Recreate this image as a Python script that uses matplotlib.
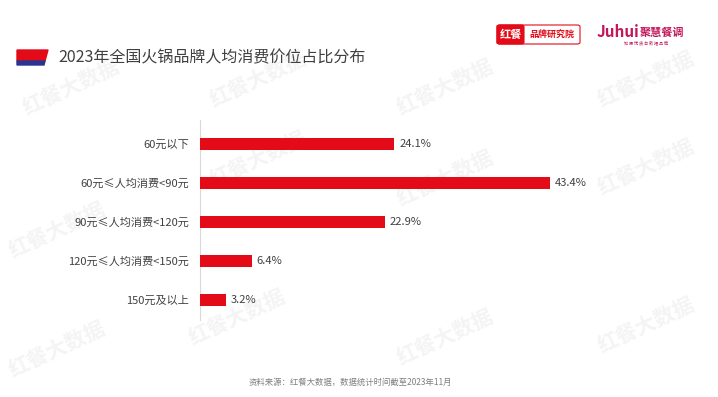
import matplotlib.pyplot as plt
from matplotlib.patches import Polygon, FancyBboxPatch

plt.rcParams['font.family'] = ['Noto Sans CJK SC', 'DejaVu Sans']

categories = ['60元以下', '60元≤人均消费<90元', '90元≤人均消费<120元',
              '120元≤人均消费<150元', '150元及以上']
shares = [24.1, 43.4, 22.9, 6.4, 3.2]
value_labels = ['24.1%', '43.4%', '22.9%', '6.4%', '3.2%']

title = '2023年全国火锅品牌人均消费价位占比分布'
source = '资料来源：红餐大数据，数据统计时间截至2023年11月'

red = '#e30b17'

fig = plt.figure(figsize=(7.18, 3.97), dpi=100)
fig.patch.set_facecolor('white')

# faint watermarks behind everything
bg = fig.add_axes([0, 0, 1, 1], zorder=-1)
bg.set_axis_off()
bg.set_xlim(0, 1)
bg.set_ylim(0, 1)
for wx, wy in [(0.10, 0.78), (0.36, 0.80), (0.62, 0.78), (0.90, 0.80),
               (0.08, 0.42), (0.36, 0.60), (0.62, 0.55), (0.90, 0.58),
               (0.08, 0.12), (0.33, 0.20), (0.62, 0.15), (0.90, 0.18)]:
    bg.text(wx, wy, '红餐大数据', fontsize=15, color='#f4f4f4', rotation=25,
            ha='center', va='center', weight='bold')

ax = fig.add_axes([200 / 718, 1 - 320 / 397, 403 / 718, 200 / 397])
ax.set_facecolor('none')
y = range(len(categories))
ax.barh(y, shares, height=0.31, color=red, zorder=3)
for i, (v, lab) in enumerate(zip(shares, value_labels)):
    ax.text(v + 0.6, i, lab, va='center', ha='left', fontsize=8, color='#404040')

ax.set_xlim(0, 50)
ax.set_ylim(4.51, -0.615)
ax.set_yticks(list(y))
ax.set_yticklabels(categories, fontsize=8, color='#404040')
ax.set_xticks([])
ax.tick_params(axis='y', length=0, pad=8)
for s in ['top', 'right', 'bottom']:
    ax.spines[s].set_visible(False)
ax.spines['left'].set_color('#d9d9d9')
ax.spines['left'].set_linewidth(0.8)

# title icon
fig.patches.append(Polygon([(17 / 718, 1 - 50 / 397), (48 / 718, 1 - 50 / 397),
                            (45 / 718, 1 - 61 / 397), (17 / 718, 1 - 61 / 397)],
                           closed=True, color=red, transform=fig.transFigure))
fig.patches.append(Polygon([(17 / 718, 1 - 61 / 397), (45 / 718, 1 - 61 / 397),
                            (44 / 718, 1 - 65 / 397), (17 / 718, 1 - 65 / 397)],
                           closed=True, color='#2a3590', transform=fig.transFigure))
fig.text(58 / 718, 1 - 58 / 397, title, fontsize=11.5, color='#404040',
         ha='left', va='center')

# logos
fig.patches.append(FancyBboxPatch((497 / 718, 1 - 44 / 397), 83 / 718, 19 / 397,
                                  boxstyle='round,pad=0,rounding_size=0.004',
                                  fc='white', ec=red, lw=0.8, transform=fig.transFigure))
fig.patches.append(FancyBboxPatch((497 / 718, 1 - 44 / 397), 27 / 718, 19 / 397,
                                  boxstyle='round,pad=0,rounding_size=0.004',
                                  fc=red, ec=red, lw=0.8, transform=fig.transFigure))
fig.text(510.5 / 718, 1 - 34.5 / 397, '红餐', fontsize=8, color='white',
         ha='center', va='center', weight='bold')
fig.text(552 / 718, 1 - 34.5 / 397, '品牌研究院', fontsize=6.5, color=red,
         ha='center', va='center', weight='bold')
fig.text(597 / 718, 1 - 32 / 397, 'Juhui', fontsize=11, color='#c2185b',
         ha='left', va='center', weight='bold')
fig.text(640 / 718, 1 - 32 / 397, '聚慧餐调', fontsize=8, color='#c2185b',
         ha='left', va='center', weight='bold')
fig.text(646 / 718, 1 - 43 / 397, '知 历 优 质 台 数 据 品 牌', fontsize=3, color='#c2185b',
         ha='center', va='center')

fig.text(350 / 718, 1 - 382 / 397, source, fontsize=6, color='#7f7f7f',
         ha='center', va='center')

fig.savefig('out.png', dpi=100, facecolor='white')
